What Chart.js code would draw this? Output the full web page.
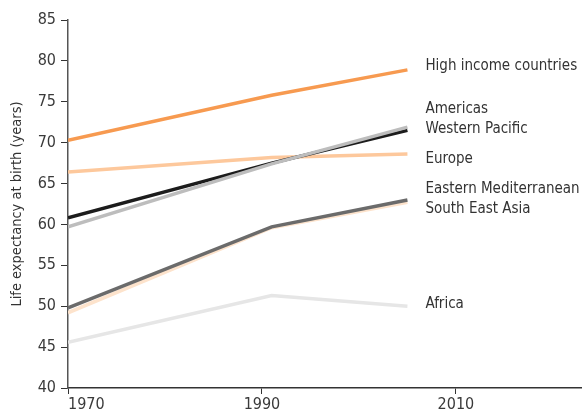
<!DOCTYPE html>
<html>
<head>
<meta charset="utf-8">
<script src="https://cdn.jsdelivr.net/npm/chart.js@4"></script>
<style>
  html, body { margin: 0; padding: 0; background: #fff; }
  #wrap { width: 582px; height: 416px; position: relative; }
</style>
</head>
<body>
<div id="wrap"><canvas id="lifeChart"></canvas></div>
<script>
    // Data
    const years = [1970, 1991, 2005];
    const highIncome = [70.3, 75.8, 78.9];
    const americas = [60.8, 67.5, 71.5];
    const westernPacific = [59.7, 67.4, 71.9];
    const europe = [66.4, 68.2, 68.6];
    const easternMed = [49.8, 59.7, 63.0];
    const southEastAsia = [49.2, 59.6, 62.7];
    const africa = [45.6, 51.3, 50.0];
    const xTicks = [1970, 1990, 2010];
    const yTicks = [40, 45, 50, 55, 60, 65, 70, 75, 80, 85];

    const FONT = '"Liberation Sans Narrow", "DejaVu Sans Condensed", "Liberation Sans", sans-serif';

    function series(label, values, color) {
        return {
            label: label,
            data: values.map((v, i) => ({ x: years[i], y: v })),
            borderColor: color,
            backgroundColor: color,
            borderWidth: 3.5,
            pointRadius: 0,
            tension: 0,
            fill: false
        };
    }

    // first one drawn on top
    const datasets = [
        series('High income countries', highIncome, '#f79a50'),
        series('Western Pacific', westernPacific, '#bdbdbd'),
        series('Americas', americas, '#1c1c1c'),
        series('Eastern Mediterranean', easternMed, '#6b6b6b'),
        series('South East Asia', southEastAsia, '#fde3cc'),
        series('Africa', africa, '#e6e6e6'),
        series('Europe', europe, '#fdc89c')
    ];

    // right-hand labels: groups of series names, shifted a little from the line ends
    const labelGroups = [
        { names: ['High income countries'], shift: -4 },
        { names: ['Americas', 'Western Pacific'], shift: -10 },
        { names: ['Europe'], shift: 5 },
        { names: ['Eastern Mediterranean', 'South East Asia'], shift: -2 },
        { names: ['Africa'], shift: -2 }
    ];

    const endLabels = {
        id: 'endLabels',
        afterDatasetsDraw(chart) {
            const ctx = chart.ctx;
            const xs = chart.scales.x;
            const ys = chart.scales.y;
            const x = xs.getPixelForValue(years[years.length - 1]) + 18;
            ctx.save();
            ctx.font = '15px ' + FONT;
            ctx.fillStyle = '#333';
            ctx.textBaseline = 'middle';
            labelGroups.forEach(g => {
                const ends = g.names.map(n => {
                    const ds = chart.data.datasets.find(d => d.label === n);
                    return ds.data[ds.data.length - 1].y;
                });
                const avg = ends.reduce((a, b) => a + b, 0) / ends.length;
                const cy = ys.getPixelForValue(avg) + g.shift;
                const lh = 20;
                g.names.forEach((n, i) => {
                    ctx.fillText(n, x, cy + (i - (g.names.length - 1) / 2) * lh);
                });
            });
            ctx.restore();
        }
    };

    new Chart(document.getElementById('lifeChart'), {
        type: 'line',
        data: { datasets: datasets },
        options: {
            responsive: true,
            maintainAspectRatio: false,
            animation: false,
            layout: { padding: { top: 20, right: 0, left: 0, bottom: 0 } },
            plugins: {
                legend: { display: false },
                tooltip: { enabled: false }
            },
            scales: {
                x: {
                    type: 'linear',
                    min: 1970,
                    max: 2023,
                    afterBuildTicks: scale => {
                        scale.ticks = xTicks.concat([2023]).map(v => ({ value: v }));
                    },
                    afterFit: scale => {
                        scale.height = 28;
                        scale.paddingLeft = 0;
                        scale.paddingRight = 0;
                    },
                    border: { display: true, color: '#333', width: 1.5 },
                    grid: {
                        drawOnChartArea: false,
                        drawTicks: true,
                        tickLength: 6,
                        tickColor: c => (c.tick && c.tick.value === 2023) ? 'rgba(0,0,0,0)' : '#333'
                    },
                    ticks: {
                        align: 'inner',
                        padding: 1,
                        maxRotation: 0,
                        autoSkip: false,
                        color: '#3a3a3a',
                        font: { family: FONT, size: 16 },
                        callback: v => (v === 2023 ? '' : String(v))
                    }
                },
                y: {
                    min: 40,
                    max: 85,
                    afterBuildTicks: scale => {
                        scale.ticks = yTicks.map(v => ({ value: v }));
                    },
                    afterFit: scale => {
                        scale.width = 68;
                        scale.paddingTop = 0;
                        scale.paddingBottom = 0;
                    },
                    border: { display: true, color: '#555', width: 1.5 },
                    grid: {
                        drawOnChartArea: false,
                        drawTicks: true,
                        tickLength: 7,
                        tickColor: '#333'
                    },
                    ticks: {
                        padding: 5,
                        color: '#3a3a3a',
                        font: { family: FONT, size: 16 }
                    },
                    title: {
                        display: true,
                        text: 'Life expectancy at birth (years)',
                        color: '#333',
                        font: { family: FONT, size: 14.5 },
                        padding: { top: 9, bottom: 0 }
                    }
                }
            }
        },
        plugins: [endLabels]
    });
</script>
</body>
</html>
